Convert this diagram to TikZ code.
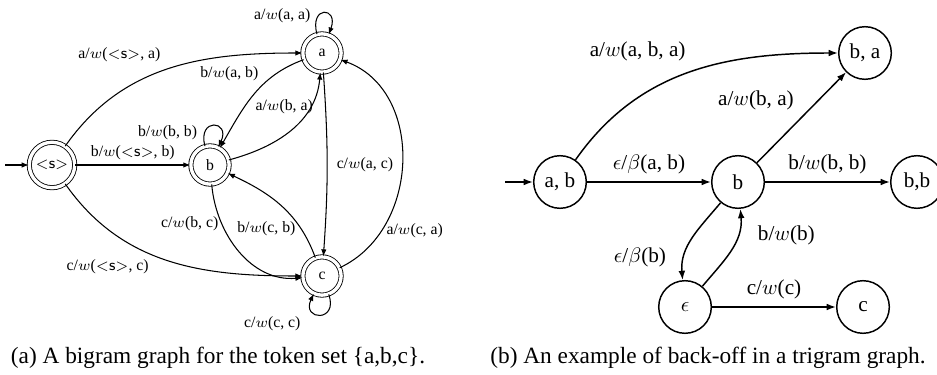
\documentclass[tikz,border=0pt]{standalone}
\usepackage{fontspec}
\setmainfont{Liberation Serif}
\usetikzlibrary{arrows.meta}
\newcommand{\bos}{$<$\textsf{s}$>$}

\begin{document}
\begin{tikzpicture}[
        x=0.476pt, y=-0.476pt,
        every node/.style={font=\fontsize{7.5}{9}\selectfont},
        accept/.style={draw, circle, double, double distance=1.6pt, minimum size=0.64cm, inner sep=0pt},
        plain/.style={draw, circle, line width=0.7pt, minimum size=0.88cm, inner sep=0pt},
        arrow/.style={-{Latex[length=3.4pt, width=2.6pt]}, line width=0.5pt},
        barrow/.style={-{Latex[length=4.4pt, width=3.2pt]}, line width=0.7pt},
        caption/.style={font=\fontsize{11.1}{13}\selectfont}
    ]
        \useasboundingbox (0,0) rectangle (937,375);

        % (a) bigram graph
        \node[accept, minimum size=0.76cm] (s) at (52,165) {\bos};
        \node[accept] (na) at (322,53) {a};
        \node[accept] (nb) at (210,165) {b};
        \node[accept] (nc) at (322,276) {c};
        \coordinate (sin) at (5,165);

        \draw[arrow] (sin) -- (s);
        \draw[arrow] (s) to[out=55, in=180] node[above left, pos=0.5] {a/$w$(\bos, a)} (na);
        \draw[arrow] (s) -- node[above, yshift=-1pt] {b/$w$(\bos, b)} (nb);
        \draw[arrow] (s) to[out=-55, in=180] node[below left, pos=0.45, yshift=2pt] {c/$w$(\bos, c)} (nc);
        \draw[arrow] (na) to[loop, out=105, in=70, min distance=5mm] node[left, pos=0.3] {a/$w$(a, a)} (na);
        \draw[arrow] (nb) to[loop, out=105, in=65, min distance=5mm] node[left, pos=0.2] {b/$w$(b, b)} (nb);
        \draw[arrow] (nc) to[loop, out=-70, in=-115, min distance=5mm] node[below left, pos=0.75, xshift=-2pt] {c/$w$(c, c)} (nc);
        \draw[arrow] (na) to[out=200, in=60] node[above left, pos=0.35, yshift=-3pt] {b/$w$(a, b)} (nb);
        \draw[arrow] (nb) to[out=15, in=-95] node[above left, pos=0.7, xshift=6pt, yshift=-5pt] {a/$w$(b, a)} (na);
        \draw[arrow] (na) to[bend left=4] node[right, xshift=1pt] {c/$w$(a, c)} (nc);
        \draw[arrow] (nc) to[out=25, in=-20, looseness=1.1] node[right, pos=0.2, yshift=2pt] {a/$w$(c, a)} (na);
        \draw[arrow] (nb) to[out=-85, in=185] node[left, pos=0.3, xshift=1pt, yshift=2pt] {c/$w$(b, c)} (nc);
        \draw[arrow] (nc) to[out=110, in=-25] node[left, pos=0.25, xshift=1pt] {b/$w$(c, b)} (nb);

        \node[caption] (capa) at (218,358) {(a) A bigram graph for the token set \{a,b,c\}.};

        % (b) back-off in a trigram graph
        \begin{scope}[every node/.style={font=\fontsize{10.1}{12}\selectfont}]
            \node[plain] (ab) at (560,182) {a, b};
            \node[plain] (b) at (738,182) {b};
            \node[plain] (ba) at (865,53) {b, a};
            \node[plain] (bb) at (917,182) {b,b};
            \node[plain] (eps) at (685,307) {$\epsilon$};
            \node[plain] (c) at (863,307) {c};
            \coordinate (abin) at (505,182);

            \draw[barrow] (abin) -- (ab);
            \draw[barrow] (ab) to[out=55, in=180] node[above left, pos=0.5, xshift=2pt, yshift=2pt] {a/$w$(a, b, a)} (ba);
            \draw[barrow] (ab) -- node[above] {$\epsilon$/$\beta$(a, b)} (b);
            \draw[barrow] (b) -- node[above left] {a/$w$(b, a)} (ba);
            \draw[barrow] (b) -- node[above] {b/$w$(b, b)} (bb);
            \draw[barrow] (b) to[out=-130, in=95] node[left, pos=0.75, xshift=-5pt] {$\epsilon$/$\beta$(b)} (eps);
            \draw[barrow] (eps) to[out=50, in=-85] node[right, pos=0.7, xshift=6pt] {b/$w$(b)} (b);
            \draw[barrow] (eps) -- node[above] {c/$w$(c)} (c);

            \node[caption] (capb) at (708,358) {(b) An example of back-off in a trigram graph.};
        \end{scope}
    \end{tikzpicture}
\end{document}
